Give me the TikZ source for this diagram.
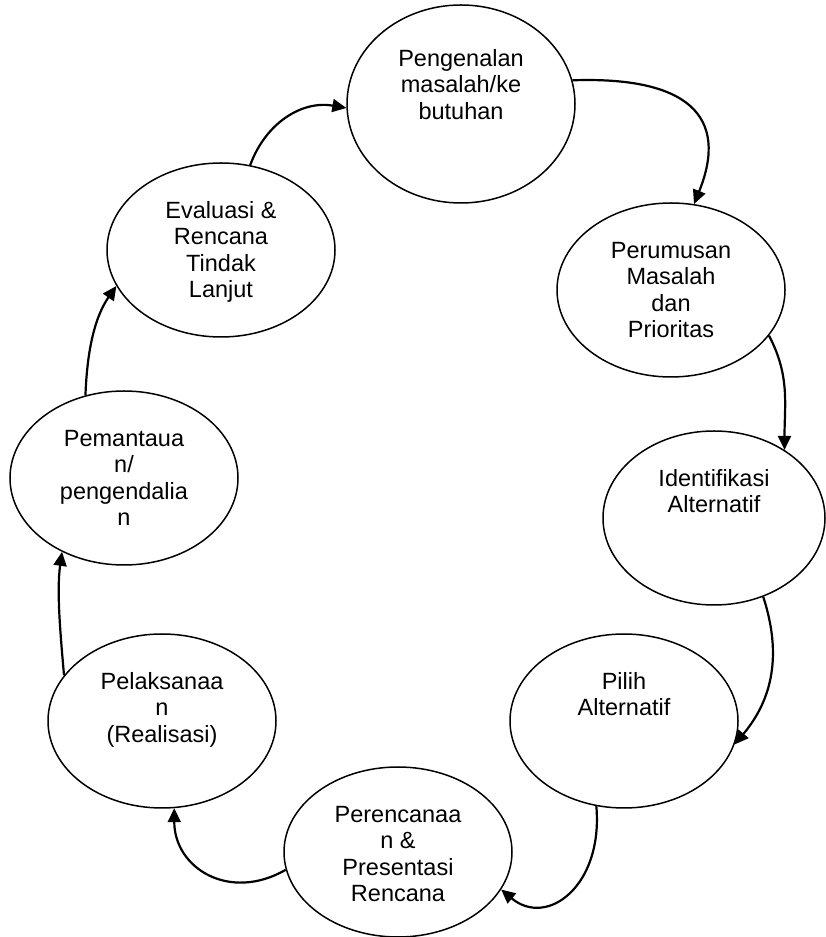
\documentclass[tikz,border=0pt]{standalone}
\usepackage{fontspec}
\setmainfont{Liberation Sans}
\usetikzlibrary{shapes.geometric,arrows.meta}
\begin{document}
\begin{tikzpicture}[x=1pt,y=1pt,
  bub/.style={ellipse, draw, line width=1.5pt, minimum width=228pt, minimum height=174pt, inner sep=0pt},
  lbl/.style={anchor=north, align=center, inner sep=0pt, font=\fontsize{23.5}{26.5}\selectfont},
  arr/.style={line width=2.2pt, -{Triangle[length=14pt,width=13pt]}}]
\useasboundingbox (0,0) rectangle (825,937);
% ellipses
\node[bub, minimum height=198pt] (e1) at (461,833) {};
\node[bub] (e2) at (671,647) {};
\node[bub] (e3) at (221,687) {};
\node[bub, minimum width=222pt] (e4) at (714,419) {};
\node[bub] (e5) at (124,459) {};
\node[bub] (e6) at (162,216) {};
\node[bub] (e7) at (624,216) {};
\node[bub, minimum height=170pt] (e8) at (398,85) {};
% texts
\node[lbl] (t1) at ([yshift=-44pt]e1.north) {\rule{0pt}{18pt}Pengenalan\\masalah/ke\\butuhan};
\node[lbl] (t2) at ([yshift=-38pt]e2.north) {\rule{0pt}{18pt}Perumusan\\Masalah\\dan\\Prioritas};
\node[lbl] (t3) at ([yshift=-38pt]e3.north) {\rule{0pt}{18pt}Evaluasi \&\\Rencana\\Tindak\\Lanjut};
\node[lbl] (t4) at ([yshift=-38pt]e4.north) {\rule{0pt}{18pt}Identifikasi\\Alternatif};
\node[lbl] (t5) at ([yshift=-38pt]e5.north) {\rule{0pt}{18pt}Pemantaua\\n/\\pengendalia\\n};
\node[lbl] (t6) at ([yshift=-38pt]e6.north) {\rule{0pt}{18pt}Pelaksanaa\\n\\(Realisasi)};
\node[lbl] (t7) at ([yshift=-38pt]e7.north) {\rule{0pt}{18pt}Pilih\\Alternatif};
\node[lbl] (t8) at ([yshift=-38pt]e8.north) {\rule{0pt}{18pt}Perencanaa\\n \&\\Presentasi\\Rencana};
% connectors
\draw[arr] (e1.12) to[out=2, in=68, out distance=115pt, in distance=95pt] (e2.75);
\draw[arr] (e2.-25) to[out=-62, in=90, out distance=45pt, in distance=45pt] (e4.44);
\draw[arr] (e4.-58) to[out=-72, in=50, out distance=60pt, in distance=60pt] (e7.-12);
\draw[arr] (e7.-108) to[out=-85, in=-40, out distance=80pt, in distance=60pt] (e8.-20);
\draw[arr] (e8.-171) to[out=-150, in=-90, out distance=65pt, in distance=60pt] (e6.-82);
\draw[arr] (e6.155) to[out=95, in=-98, out distance=40pt, in distance=40pt] (e5.-130);
\draw[arr] (e5.115) to[out=88, in=-125, out distance=40pt, in distance=40pt] (e3.-161);
\draw[arr] (e3.71) to[out=70, in=170, out distance=45pt, in distance=45pt] (e1.182);
\end{tikzpicture}
\end{document}
